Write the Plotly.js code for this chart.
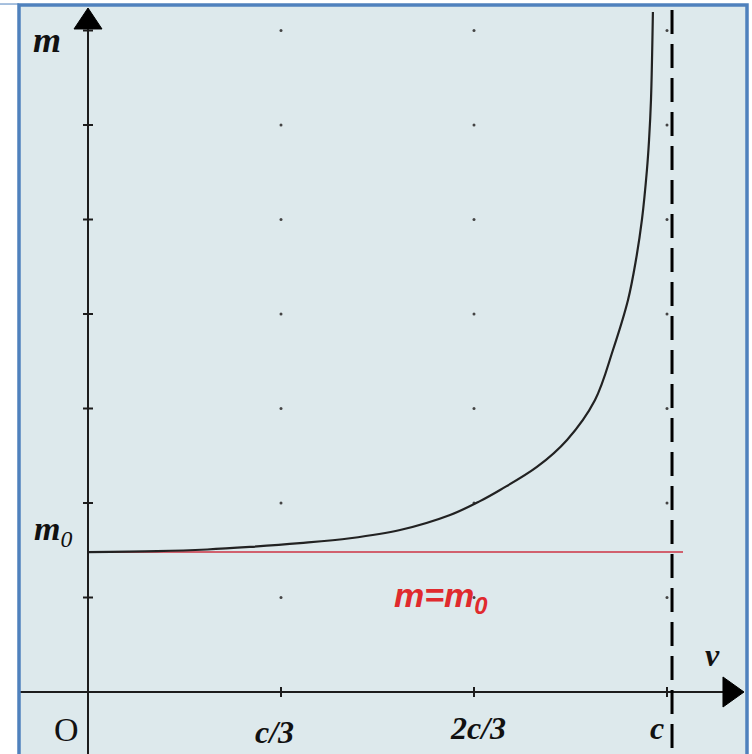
<!DOCTYPE html>
<html>
<head>
<meta charset="utf-8">
<script src="https://cdn.plot.ly/plotly-3.0.1.min.js"></script>
<style>html,body{margin:0;padding:0;background:#fff;}#chart{width:752px;height:754px;}</style>
</head>
<body>
<div id="chart"></div>
<script>
// Data (x in units of c/3, y in units of the m-axis tick spacing)
const curveV = [0, 0.358, 0.617, 0.839, 1.098, 1.358, 1.617, 1.876, 2.031, 2.135, 2.326, 2.482, 2.627, 2.720, 2.798, 2.839, 2.870, 2.896, 2.907, 2.917, 2.927];
const curveM = [1.481, 1.490, 1.508, 1.535, 1.575, 1.627, 1.714, 1.873, 2.020, 2.138, 2.381, 2.667, 3.090, 3.619, 4.148, 4.571, 4.995, 5.524, 5.841, 6.265, 7.196];
const M0 = 1.481;            // rest mass level
const C_LIGHT = 3.026;       // asymptote v = c (dashed line)
const restLineEnd = 3.083;
const xTicks = [1, 2, 3];
const xTickLabels = ['c/3', '2c/3', 'c'];
const yTicks = [1, 2, 3, 4, 5, 6, 7];

const serif = 'Liberation Serif, Times New Roman, serif';
const sans = 'Liberation Sans, Arial, sans-serif';
const ink = '#1c1c1c';

// grid dots
const dotX = [], dotY = [];
xTicks.forEach(x => yTicks.forEach(y => { dotX.push(x); dotY.push(y); }));

const traces = [
  { x: dotX, y: dotY, mode: 'markers', type: 'scatter', hoverinfo: 'skip',
    marker: { size: 3, color: '#444' } },
  { x: [0, restLineEnd], y: [M0, M0], mode: 'lines', type: 'scatter', hoverinfo: 'skip',
    line: { color: '#cc3344', width: 1.6 } },
  { x: curveV, y: curveM, mode: 'lines', type: 'scatter', hoverinfo: 'skip',
    line: { color: '#222', width: 2.2, shape: 'spline', smoothing: 1 } }
];

const yr = [-0.6561, 7.2698], xr = [-0.3575, 3.4145];
const shapes = [];
// axes lines
shapes.push({ type: 'line', xref: 'x', yref: 'y', x0: 0, x1: 0, y0: yr[0], y1: 7.05, line: { color: ink, width: 2 } });
shapes.push({ type: 'line', xref: 'x', yref: 'y', x0: xr[0], x1: 3.30, y0: 0, y1: 0, line: { color: ink, width: 2 } });
// arrow heads
shapes.push({ type: 'path', xref: 'x', yref: 'y', path: 'M 0 7.238 L -0.0725 7.016 L 0.0725 7.016 Z', fillcolor: '#000', line: { color: '#000', width: 1 } });
shapes.push({ type: 'path', xref: 'x', yref: 'y', path: 'M 3.399 0 L 3.290 0.159 L 3.290 -0.159 Z', fillcolor: '#000', line: { color: '#000', width: 1 } });
// tick marks
yTicks.forEach(t => shapes.push({ type: 'line', xref: 'x', yref: 'y', x0: -0.026, x1: 0.026, y0: t, y1: t, line: { color: ink, width: 2 } }));
xTicks.forEach(t => shapes.push({ type: 'line', xref: 'x', yref: 'y', x0: t, x1: t, y0: -0.053, y1: 0.053, line: { color: ink, width: 2 } }));
// asymptote
shapes.push({ type: 'line', xref: 'x', yref: 'y', x0: C_LIGHT, x1: C_LIGHT, y0: 7.217, y1: yr[0], line: { color: '#000', width: 3, dash: '24px,10px' } });
// frame
shapes.push({ type: 'path', xref: 'paper', yref: 'paper', path: 'M 0 -0.01 L 0 1 L 1 1 L 1 -0.01', line: { color: '#4f81bd', width: 3.5 } });
shapes.push({ type: 'line', xref: 'paper', yref: 'paper', x0: -0.03, x1: 0, y0: 1.0013, y1: 1.0013, line: { color: '#4f81bd', width: 1 } });

const ann = (x, y, text, size, extra) => Object.assign({ x: x, y: y, xref: 'x', yref: 'y', text: text, showarrow: false,
  font: { family: serif, size: size, color: '#111' }, xanchor: 'center', yanchor: 'middle' }, extra || {});

const labelX = [0.964, 2.021, 2.950];
const labelY = [-0.423, -0.381, -0.381];
const annotations = [
  ann(-0.212, 6.899, '<b><i>m</i></b>', 36),
  ann(-0.290, 1.70, '<b><i>m</i></b><sub><i>0</i></sub>', 34, { xanchor: 'left' }),
  ann(-0.114, -0.392, 'O', 34),
  ann(3.238, 0.392, '<b><i>v</i></b>', 32),
  ann(1.575, 1.00, '<b><i>m=m</i></b><sub><b><i>0</i></b></sub>', 34, { xanchor: 'left', font: { family: sans, size: 34, color: '#e02a2e' } })
];
xTickLabels.forEach((t, i) => annotations.push(ann(labelX[i], labelY[i], '<b><i>' + t + '</i></b>', 32)));

const layout = {
  width: 752, height: 754,
  margin: { l: 19, r: 5, t: 5, b: 0, pad: 0 },
  paper_bgcolor: '#ffffff',
  plot_bgcolor: '#dde9ec',
  showlegend: false,
  xaxis: { range: xr, visible: false, fixedrange: true },
  yaxis: { range: yr, visible: false, fixedrange: true },
  shapes: shapes,
  annotations: annotations
};

Plotly.newPlot('chart', traces, layout, { displayModeBar: false, staticPlot: true });
</script>
</body>
</html>
